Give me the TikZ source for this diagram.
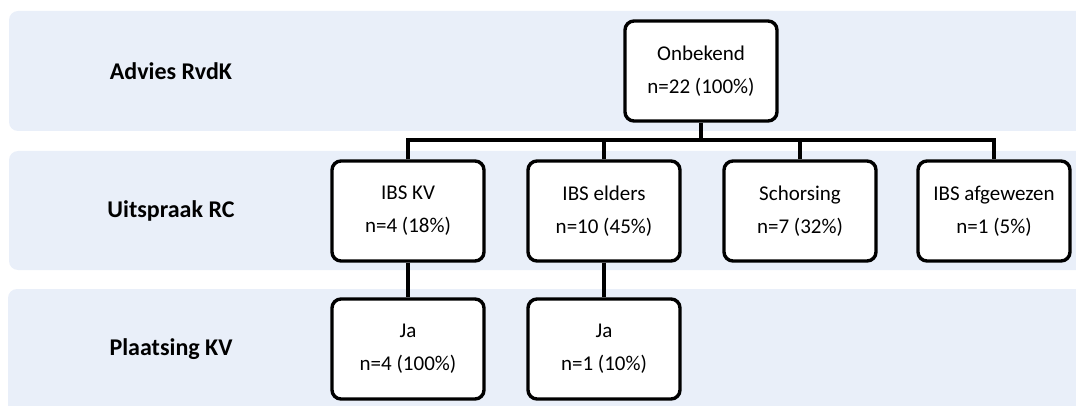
\documentclass[tikz,border=0pt]{standalone}
\usepackage{fontspec}
\setmainfont{Carlito}
\definecolor{bandfill}{HTML}{E9EFF9}
\tikzset{
  band/.style={fill=bandfill, draw=none, rounded corners=9pt},
  box/.style={draw=black, line width=3.4pt, fill=white, rounded corners=9pt,
    minimum width=152pt, minimum height=100pt, inner sep=0pt, align=center,
    font=\fontsize{21}{33}\selectfont},
  lbl/.style={font=\fontsize{24}{28}\selectfont\bfseries},
  conn/.style={line width=3.4pt}
}
\begin{document}
\begin{tikzpicture}[x=1pt,y=-1pt]
\useasboundingbox (0,0) rectangle (1076,406);
\clip (0,0) rectangle (1076,406);
\draw[band] (9,11) rectangle (1100,131);
\draw[band] (9,151) rectangle (1100,270);
\draw[band] (8,289) rectangle (1100,430);
\node[lbl] (l1) at (171,71) {Advies RvdK};
\node[lbl] (l2) at (171,211) {Uitspraak RC};
\node[lbl] (l3) at (171,349) {Plaatsing KV};
\node[box] (onb) at (701,71) {Onbekend\\n=22 (100\%)};
\node[box] (kv) at (408,211) {IBS KV\\n=4 (18\%)};
\node[box] (eld) at (604,211) {IBS elders\\n=10 (45\%)};
\node[box] (sch) at (800,211) {Schorsing\\n=7 (32\%)};
\node[box] (afg) at (994,211) {IBS afgewezen\\n=1 (5\%)};
\node[box] (ja1) at (408,349) {Ja\\n=4 (100\%)};
\node[box] (ja2) at (604,349) {Ja\\n=1 (10\%)};
\coordinate (bus) at (701,140);
\draw[conn] (onb.south) -- (bus);
\draw[conn] (kv.north) |- (bus) -| (afg.north);
\draw[conn] (eld.north) -- (eld.north |- bus);
\draw[conn] (sch.north) -- (sch.north |- bus);
\draw[conn] (kv.south) -- (ja1.north);
\draw[conn] (eld.south) -- (ja2.north);
\end{tikzpicture}
\end{document}
